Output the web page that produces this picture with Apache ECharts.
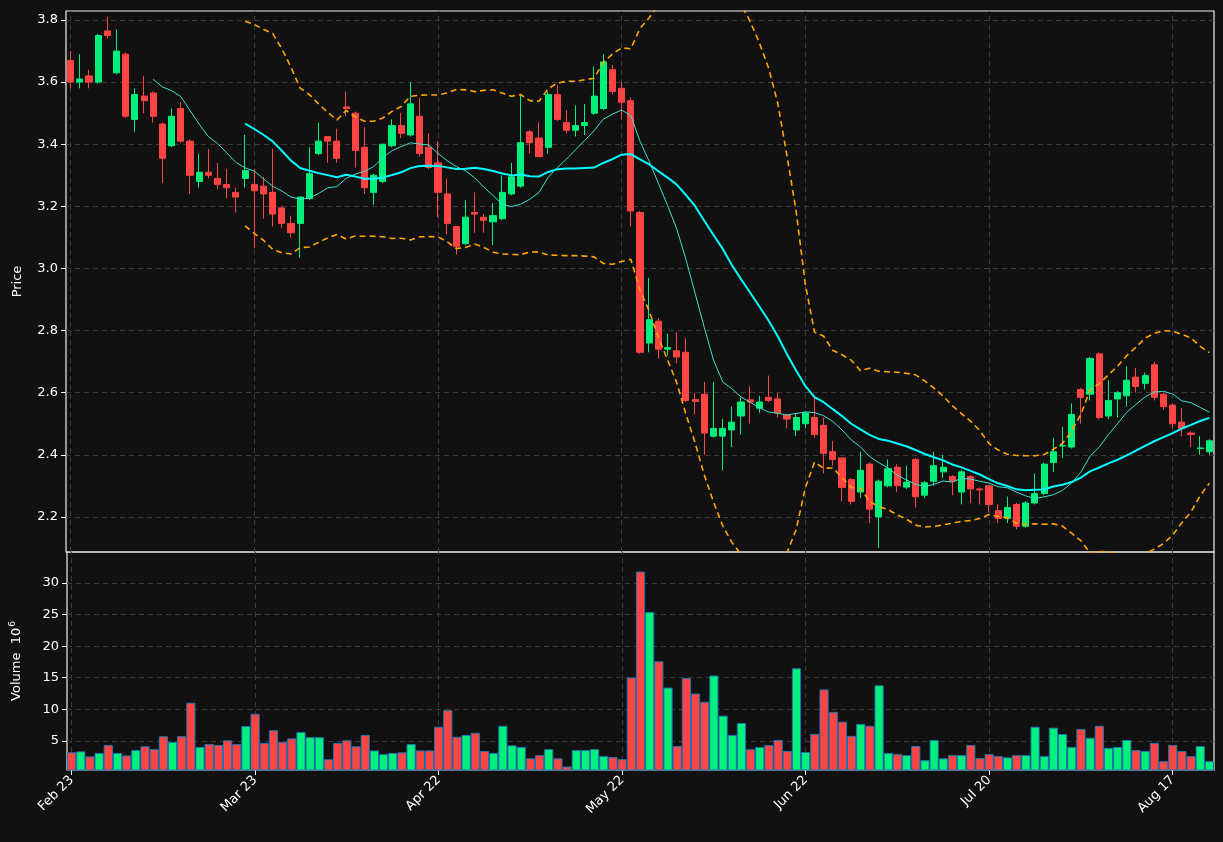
<!DOCTYPE html>
<html><head><meta charset="utf-8">
<script src="https://cdn.jsdelivr.net/npm/echarts@6/dist/echarts.min.js"></script>
<style>html,body{margin:0;padding:0;background:#111111;}#c{width:1223px;height:842px;}</style>
</head><body><div id="c"></div>
<script>
const tickLabels = ['Feb 23','Mar 23','Apr 22','May 22','Jun 22','Jul 20','Aug 17'];
const opens  = [3.67,3.60,3.62,3.60,3.765,3.63,3.69,3.48,3.555,3.565,3.465,3.395,3.515,3.41,3.28,3.31,3.29,3.27,3.245,3.29,
3.27,3.265,3.245,3.195,3.145,3.145,3.225,3.37,3.425,3.41,3.52,3.50,3.39,3.245,3.28,3.395,3.46,3.43,3.49,3.39,
3.34,3.24,3.135,3.08,3.18,3.165,3.15,3.16,3.24,3.265,3.44,3.42,3.39,3.56,3.47,3.445,3.46,3.50,3.515,3.64,
3.58,3.54,3.18,2.76,2.83,2.74,2.735,2.73,2.578,2.595,2.46,2.46,2.48,2.525,2.577,2.55,2.585,2.58,2.528,2.48,
2.50,2.52,2.495,2.41,2.39,2.32,2.28,2.37,2.20,2.30,2.36,2.296,2.385,2.27,2.315,2.345,2.33,2.28,2.33,2.29,
2.30,2.22,2.196,2.24,2.17,2.245,2.275,2.375,2.428,2.425,2.61,2.595,2.725,2.525,2.58,2.59,2.65,2.63,2.69,2.595,
2.56,2.505,2.47,2.42,2.41];
const closes = [3.60,3.61,3.60,3.75,3.75,3.70,3.49,3.56,3.54,3.49,3.355,3.49,3.41,3.30,3.31,3.30,3.27,3.26,3.23,3.315,
3.25,3.24,3.175,3.145,3.115,3.23,3.305,3.41,3.41,3.355,3.515,3.38,3.26,3.30,3.40,3.46,3.435,3.53,3.37,3.325,
3.245,3.145,3.07,3.165,3.175,3.155,3.17,3.245,3.295,3.405,3.405,3.36,3.56,3.48,3.445,3.46,3.47,3.555,3.665,3.57,
3.535,3.185,2.73,2.835,2.74,2.745,2.715,2.575,2.572,2.47,2.485,2.485,2.505,2.57,2.57,2.57,2.575,2.535,2.515,2.52,
2.535,2.465,2.405,2.385,2.295,2.25,2.35,2.225,2.315,2.355,2.30,2.312,2.265,2.31,2.365,2.36,2.315,2.345,2.29,2.287,
2.24,2.195,2.23,2.17,2.245,2.275,2.37,2.41,2.43,2.53,2.585,2.71,2.52,2.575,2.60,2.64,2.62,2.655,2.585,2.555,
2.50,2.485,2.465,2.422,2.445];
const highs  = [3.70,3.69,3.64,3.755,3.81,3.77,3.695,3.58,3.62,3.57,3.47,3.515,3.535,3.415,3.37,3.385,3.34,3.32,3.26,3.43,
3.32,3.295,3.385,3.20,3.17,3.23,3.39,3.47,3.425,3.45,3.57,3.505,3.455,3.305,3.40,3.48,3.50,3.60,3.55,3.435,
3.41,3.29,3.135,3.22,3.245,3.175,3.21,3.30,3.34,3.56,3.445,3.47,3.57,3.59,3.51,3.525,3.53,3.65,3.69,3.655,
3.60,3.55,3.185,2.97,2.84,2.79,2.795,2.775,2.60,2.635,2.635,2.515,2.555,2.585,2.62,2.59,2.655,2.60,2.53,2.53,
2.54,2.585,2.52,2.445,2.39,2.325,2.41,2.375,2.32,2.385,2.37,2.365,2.39,2.315,2.41,2.40,2.335,2.35,2.335,2.295,
2.30,2.24,2.265,2.245,2.25,2.34,2.375,2.455,2.49,2.565,2.615,2.715,2.73,2.64,2.605,2.685,2.68,2.665,2.70,2.60,
2.565,2.55,2.475,2.46,2.45];
const lows   = [3.58,3.58,3.58,3.595,3.74,3.625,3.485,3.44,3.50,3.47,3.275,3.39,3.405,3.24,3.26,3.29,3.255,3.225,3.18,3.26,
3.065,3.16,3.135,3.13,3.10,3.035,3.22,3.365,3.34,3.34,3.49,3.325,3.24,3.205,3.275,3.39,3.42,3.425,3.36,3.32,
3.165,3.11,3.045,3.075,3.115,3.115,3.075,3.155,3.235,3.26,3.37,3.36,3.37,3.475,3.435,3.425,3.43,3.495,3.51,3.56,
3.48,3.135,2.725,2.73,2.71,2.72,2.695,2.57,2.53,2.40,2.455,2.35,2.425,2.465,2.50,2.535,2.57,2.52,2.485,2.46,
2.485,2.455,2.34,2.365,2.25,2.24,2.26,2.18,2.10,2.295,2.28,2.29,2.23,2.26,2.30,2.325,2.27,2.24,2.245,2.24,
2.215,2.18,2.18,2.16,2.165,2.24,2.27,2.345,2.39,2.42,2.50,2.575,2.515,2.515,2.52,2.555,2.60,2.61,2.575,2.545,
2.485,2.46,2.425,2.40,2.40];
const volumes = [3.2,3.35,2.55,3.1,4.35,3.1,2.7,3.55,4.15,3.7,5.75,4.85,5.75,11.05,4.05,4.5,4.35,5.1,4.5,7.35,
9.3,4.7,6.7,4.85,5.4,6.4,5.6,5.6,2.1,4.7,5.1,4.15,5.95,3.5,2.9,3.1,3.2,4.5,3.5,3.5,
7.25,9.9,5.65,5.95,6.3,3.4,3.1,7.4,4.3,4.05,2.25,2.75,3.7,2.25,0.95,3.55,3.55,3.7,2.6,2.45,
2.1,15.05,31.8,25.4,17.6,13.45,4.2,14.95,12.5,11.2,15.35,9.0,5.95,7.85,3.7,4.05,4.35,5.15,3.4,16.5,
3.25,6.1,13.15,9.6,8.05,5.8,7.7,7.4,13.8,3.1,2.9,2.75,4.2,1.95,5.15,2.25,2.75,2.75,4.35,2.3,
2.9,2.6,2.4,2.75,2.75,7.25,2.6,7.1,6.1,4.05,6.9,5.5,7.4,3.9,4.05,5.15,3.55,3.4,4.7,1.8,
4.35,3.4,2.6,4.2,1.8];
const priceTicks = [2.2,2.4,2.6,2.8,3.0,3.2,3.4,3.6,3.8];
const volTicks = [5,10,15,20,25,30];

const UP = '#00f07c', DOWN = '#ff4444';
const cats = closes.map((_, i) => i);
function ma(p) { return closes.map((_, i) => { if (i < p - 1) return '-'; let s = 0; for (let k = i - p + 1; k <= i; k++) s += closes[k]; return +(s / p).toFixed(4); }); }
function bands(p, m) {
  const up = [], lo = [];
  closes.forEach((_, i) => {
    if (i < p - 1) { up.push('-'); lo.push('-'); return; }
    let s = 0; for (let k = i - p + 1; k <= i; k++) s += closes[k];
    const mean = s / p; let v = 0;
    for (let k = i - p + 1; k <= i; k++) v += (closes[k] - mean) ** 2;
    const sd = Math.sqrt(v / p);
    up.push(+(mean + m * sd).toFixed(4)); lo.push(+(mean - m * sd).toFixed(4));
  });
  return [up, lo];
}
const ma10 = ma(10), ma20 = ma(20), [bbU, bbL] = bands(20, 2);
const kdata = cats.map(i => [opens[i], closes[i], lows[i], highs[i]]);
const vdata = cats.map(i => ({ value: volumes[i], itemStyle: { color: closes[i] >= opens[i] ? UP : DOWN } }));
const tickIdx = i => i % 20 === 0;
const xGrid = cats.filter(tickIdx);
const txt = { color: '#ffffff', fontFamily: 'DejaVu Sans', fontSize: 13 };
const gl = { color: '#3a3a3a', type: [5, 4], width: 1 };
const gridMark = (ys) => ({ silent: true, symbol: 'none', label: { show: false }, lineStyle: gl,
  data: ys.map(v => ({ yAxis: v })).concat(xGrid.map(v => ({ xAxis: v }))) });

const chart = echarts.init(document.getElementById('c'), null, { renderer: 'canvas' });
chart.setOption({
  backgroundColor: '#111111',
  animation: false,
  grid: [
    { left: 66, width: 1148, top: 11, height: 541, show: true, borderColor: '#eeeeee', borderWidth: 1.2 },
    { left: 66, width: 1148, top: 552, height: 218, show: true, borderColor: '#eeeeee', borderWidth: 1.2 }
  ],
  xAxis: [
    { type: 'category', gridIndex: 0, data: cats, boundaryGap: true,
      axisLine: { show: false }, axisTick: { show: false }, axisLabel: { show: false }, splitLine: { show: false } },
    { type: 'category', gridIndex: 1, data: cats, boundaryGap: true,
      axisLine: { show: false },
      axisTick: { show: true, interval: (i) => tickIdx(i), alignWithLabel: true, length: 5, lineStyle: { color: '#ffffff' } },
      axisLabel: Object.assign({ interval: (i) => tickIdx(i), rotate: 45, margin: 8,
        formatter: (v, i) => tickLabels[i / 20] || '' }, txt),
      splitLine: { show: false } }
  ],
  yAxis: [
    { type: 'value', gridIndex: 0, min: 2.087, max: 3.829, scale: true,
      name: 'Price', nameLocation: 'middle', nameGap: 42, nameRotate: 90, nameTextStyle: txt,
      axisLine: { show: false },
      axisTick: { show: true, customValues: priceTicks, length: 5, lineStyle: { color: '#fff' } },
      axisLabel: Object.assign({ customValues: priceTicks, formatter: v => v.toFixed(1) }, txt),
      splitLine: { show: false } },
    { type: 'value', gridIndex: 1, min: 0.4, max: 34.9,
      name: 'Volume  10{s|6}', nameLocation: 'middle', nameGap: 42, nameRotate: 90,
      nameTextStyle: Object.assign({ rich: { s: { fontSize: 9, color: '#fff', fontFamily: 'DejaVu Sans', padding: [0, 0, 8, 1] } } }, txt),
      axisLine: { show: false },
      axisTick: { show: true, customValues: volTicks, length: 5, lineStyle: { color: '#fff' } },
      axisLabel: Object.assign({ customValues: volTicks }, txt),
      splitLine: { show: false } }
  ],
  series: [
    { type: 'line', xAxisIndex: 0, yAxisIndex: 0, data: [], silent: true, markLine: gridMark(priceTicks) },
    { type: 'line', xAxisIndex: 1, yAxisIndex: 1, data: [], silent: true, markLine: gridMark(volTicks) },
    { type: 'candlestick', xAxisIndex: 0, yAxisIndex: 0, data: kdata, barWidth: '72%', zlevel: 1,
      itemStyle: { color: UP, color0: DOWN, borderColor: UP, borderColor0: DOWN, borderWidth: 1 } },
    { type: 'line', xAxisIndex: 0, yAxisIndex: 0, data: ma10, showSymbol: false, clip: true, zlevel: 1,
      lineStyle: { color: '#40e0d0', width: 1 }, z: 5 },
    { type: 'line', xAxisIndex: 0, yAxisIndex: 0, data: ma20, showSymbol: false, clip: true, zlevel: 1,
      lineStyle: { color: '#00ffff', width: 2 }, z: 5 },
    { type: 'line', xAxisIndex: 0, yAxisIndex: 0, data: bbU, showSymbol: false, clip: true, zlevel: 1,
      lineStyle: { color: '#ffa500', width: 1.6, type: [6, 4] }, z: 5 },
    { type: 'line', xAxisIndex: 0, yAxisIndex: 0, data: bbL, showSymbol: false, clip: true, zlevel: 1,
      lineStyle: { color: '#ffa500', width: 1.6, type: [6, 4] }, z: 5 },
    { type: 'bar', xAxisIndex: 1, yAxisIndex: 1, data: vdata, barWidth: '100%', zlevel: 1,
      itemStyle: { borderColor: '#1f77b4', borderWidth: 1 } }
  ]
});
</script></body></html>
